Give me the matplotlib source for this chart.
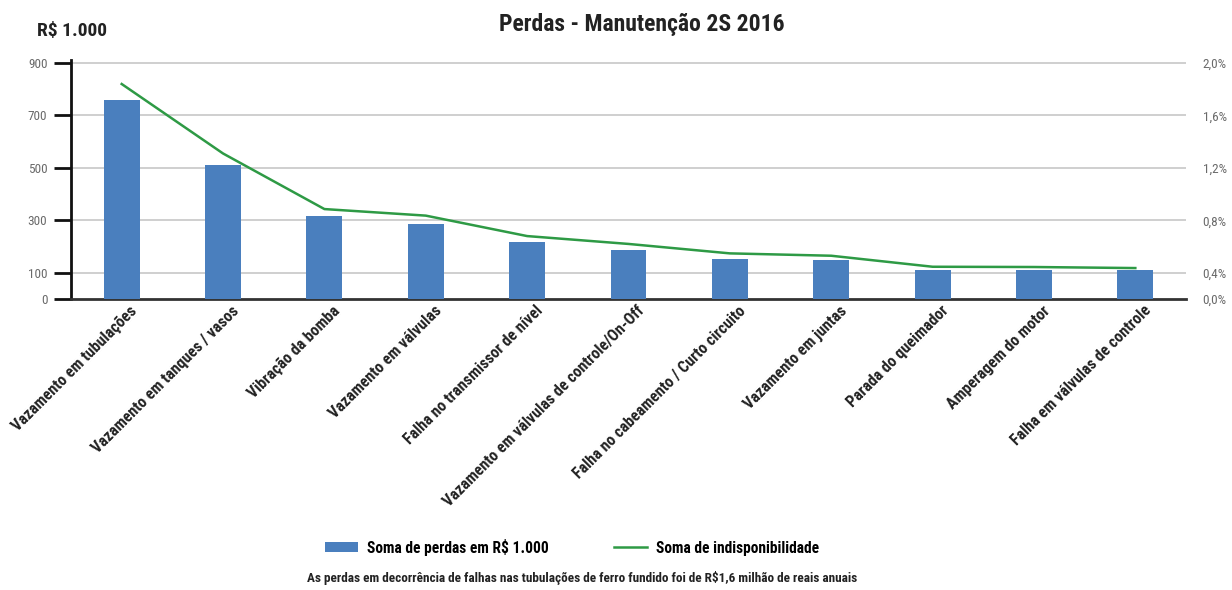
import numpy as np
import matplotlib
matplotlib.use("Agg")
import matplotlib.pyplot as plt
from matplotlib import font_manager as fm
from matplotlib.patches import Patch
from matplotlib.lines import Line2D
import matplotlib.transforms as mtrans

# ---------------- data ----------------
categories = [
    "Vazamento em tubulações",
    "Vazamento em tanques / vasos",
    "Vibração da bomba",
    "Vazamento em válvulas",
    "Falha no transmissor de nível",
    "Vazamento em válvulas de controle/On-Off",
    "Falha no cabeamento / Curto circuito",
    "Vazamento em juntas",
    "Parada do queimador",
    "Amperagem do motor",
    "Falha em válvulas de controle",
]
perdas = [759, 511, 317, 286, 217, 187, 153, 149, 111, 111, 111]          # R$ 1.000
indisponibilidade = [1.84, 1.31, 0.886, 0.836, 0.68, 0.62, 0.548, 0.53, 0.446, 0.444, 0.436]  # %

left_ticks = [0, 100, 300, 500, 700, 900]
right_ticks = [0.0, 0.4, 0.8, 1.2, 1.6, 2.0]
right_labels = ["0,0%", "0,4%", "0,8%", "1,2%", "1,6%", "2,0%"]

title = "Perdas - Manutenção 2S 2016"
unit_label = "R$ 1.000"
legend_bar = "Soma de perdas em R$ 1.000"
legend_line = "Soma de indisponibilidade"
footer = "As perdas em decorrência de falhas nas tubulações de ferro fundido foi de R$1,6 milhão de reais anuais"

# ---------------- font ----------------
names = {f.name for f in fm.fontManager.ttflist}
family = None
for cand in ["Noto Sans Condensed", "Liberation Sans Narrow", "Roboto Condensed",
             "Open Sans Condensed", "DejaVu Sans Condensed"]:
    if cand in names:
        family = cand
        break
if family is None:
    extra = sorted(n for n in names if ("Condensed" in n or "Narrow" in n))
    family = extra[0] if extra else "Noto Sans"
plt.rcParams["font.family"] = [family, "DejaVu Sans"]
plt.rcParams["font.stretch"] = "condensed"

BLUE = "#4a7fbe"
GREEN = "#2e9a45"
GRID = "#cfcfcf"
TICKC = "#6a6a6a"
TXT = "#222222"

fig = plt.figure(figsize=(12.32, 5.90), dpi=100)
ax = fig.add_axes([71 / 1232, 1 - 299 / 590, (1186 - 71) / 1232, (299 - 60.4) / 590])

x = np.arange(len(categories))
ax.bar(x, perdas, width=0.355, color=BLUE, zorder=3)
ax.set_xlim(-0.5, len(categories) - 0.5)
ax.set_ylim(0, 910)
ax.set_yticks(left_ticks)
ax.set_yticklabels([str(t) for t in left_ticks], fontsize=9.5, color=TICKC)
ax.tick_params(axis="y", length=12, width=2, color="#111111", pad=5)
for v in left_ticks[1:]:
    ax.axhline(v, color=GRID, lw=1.4, zorder=1)
for s in ["top", "right"]:
    ax.spines[s].set_visible(False)
ax.spines["left"].set_linewidth(2)
ax.spines["left"].set_color("#111111")
ax.spines["bottom"].set_linewidth(2)
ax.spines["bottom"].set_color("#333333")

ax.set_xticks(x)
ax.set_xticklabels([])
ax.tick_params(axis="x", length=0)
off = mtrans.ScaledTranslation(8 / 100, -4 / 100, fig.dpi_scale_trans)
for i, lab in enumerate(categories):
    ax.text(i, 0, lab, rotation=45, rotation_mode="anchor", ha="right", va="top",
            fontsize=11.5, fontweight="semibold", color=TXT,
            transform=mtrans.blended_transform_factory(ax.transData, ax.transAxes) + off)

# right axis: label positions aligned with gridlines
PT = np.array(right_ticks)
LT = np.array(left_ticks, dtype=float)


def fwd(p):
    p = np.asarray(p, dtype=float)
    return np.where(p <= 2.0, np.interp(p, PT, LT), 900 + (p - 2.0) * 500)


def inv(v):
    v = np.asarray(v, dtype=float)
    return np.where(v <= 900, np.interp(v, LT, PT), 2.0 + (v - 900) / 500)


ax2 = ax.twinx()
ax2.set_yscale("function", functions=(fwd, inv))
ax2.set_ylim(0, float(inv(910)))
ax2.plot(x, indisponibilidade, color=GREEN, lw=1.8, zorder=4)
ax2.set_yticks(right_ticks)
ax2.set_yticklabels(right_labels, fontsize=9.5, color=TICKC)
ax2.yaxis.set_minor_locator(matplotlib.ticker.NullLocator())
ax2.tick_params(axis="y", length=0, pad=12)
for s in ["top", "right", "left", "bottom"]:
    ax2.spines[s].set_visible(False)

fig.text(642 / 1232, 1 - 24 / 590, title, ha="center", va="center",
         fontsize=17, fontweight="bold", color=TXT)
fig.text(37 / 1232, 1 - 31 / 590, unit_label, ha="left", va="center",
         fontsize=14, fontweight="bold", color=TXT)

handles = [Patch(facecolor=BLUE, edgecolor="none"), Line2D([], [], color=GREEN, lw=1.8)]
fig.legend(handles, [legend_bar, legend_line], loc="center",
           bbox_to_anchor=(572 / 1232, 1 - 547 / 590), ncol=2, frameon=False,
           prop={"size": 11.2, "weight": "semibold"}, handlelength=2.1, handleheight=0.6,
           columnspacing=4.2, handletextpad=0.6)
fig.text(582 / 1232, 1 - 578 / 590, footer, ha="center", va="center",
         fontsize=9.5, fontweight="bold", color=TXT)

fig.savefig("out.png", dpi=100)
